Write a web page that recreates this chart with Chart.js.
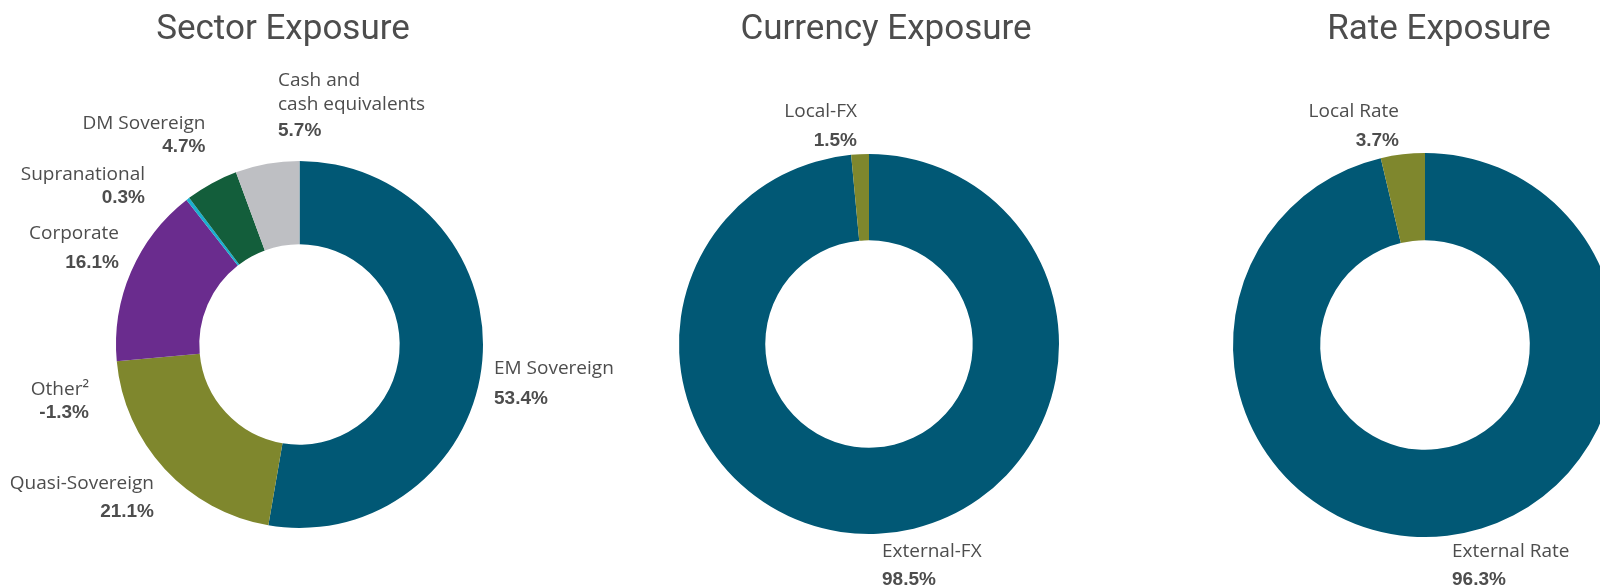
<!DOCTYPE html>
<html>
<head>
<meta charset="utf-8">
<title>Sector, Currency and Rate Exposure</title>
<script src="https://cdn.jsdelivr.net/npm/chart.js@4.4.1/dist/chart.umd.min.js"></script>
<style>
  html, body { margin: 0; padding: 0; background: #fff; }
  body { position: relative; width: 1600px; height: 587px; overflow: hidden; }
  canvas { position: absolute; top: 0; }
</style>
</head>
<body>
<canvas id="sector" width="650" height="587" style="left:0"></canvas>
<canvas id="currency" width="540" height="587" style="left:600px"></canvas>
<canvas id="rate" width="520" height="587" style="left:1140px"></canvas>
<script>
// data (clockwise from 12 o'clock)
const sectorLabels = ['EM Sovereign', 'Quasi-Sovereign', 'Other\u00B2', 'Corporate', 'Supranational', 'DM Sovereign', ['Cash and', 'cash equivalents']];
const sectorValues = [53.4, 21.1, -1.3, 16.1, 0.3, 4.7, 5.7];

const currencyLabels = ['External-FX', 'Local-FX'];
const currencyValues = [98.5, 1.5];

const rateLabels = ['External Rate', 'Local Rate'];
const rateValues = [96.3, 3.7];

const TEAL = '#015875';
const OLIVE = '#7f872d';
const sectorColors = [TEAL, OLIVE, '#9a9a9a', '#6a2c8e', '#1aafcf', '#135e3b', '#bebfc3'];

// label placement: offset from the doughnut centre, text alignment, gap to the value line
const sectorLayout = [
  { dx: 194.5, dy: 29.5, align: 'left', gap: 30 },
  { dx: -145.5, dy: 144.5, align: 'right', gap: 28 },
  { dx: -210.5, dy: 50.5, align: 'right', gap: 23 },
  { dx: -180.5, dy: -105.5, align: 'right', gap: 29 },
  { dx: -154.5, dy: -164.5, align: 'right', gap: 23 },
  { dx: -94, dy: -215.5, align: 'right', gap: 23 },
  { dx: -21.5, dy: -258.5, align: 'left', gap: 26 }
];
const currencyLayout = [
  { dx: 13, dy: 213, align: 'left', gap: 28 },
  { dx: -12, dy: -227, align: 'right', gap: 29 }
];
const rateLayout = [
  { dx: 27, dy: 212, align: 'left', gap: 28 },
  { dx: -26, dy: -228, align: 'right', gap: 29 }
];

const TEXT = '#4d4d4d';

const sliceLabels = {
  id: 'sliceLabels',
  afterDatasetsDraw(chart, args, opts) {
    const ctx = chart.ctx;
    const arc = chart.getDatasetMeta(0).data[0];
    const cx = arc.x, cy = arc.y;
    ctx.save();
    ctx.fillStyle = TEXT;
    ctx.textBaseline = 'alphabetic';

    // title
    ctx.textAlign = 'center';
    ctx.font = '35px Roboto';
    ctx.fillText(opts.title, cx + opts.titleDx, 39);

    chart.data.labels.forEach((lab, i) => {
      const p = opts.layout[i];
      const lines = Array.isArray(lab) ? lab : [lab];
      const x = cx + p.dx;
      let y = cy + p.dy;
      ctx.textAlign = p.align;
      ctx.font = '19px "Open Sans"';
      lines.forEach((ln, j) => {
        ctx.fillText(ln, x, y);
        if (j < lines.length - 1) y += 24;
      });
      ctx.font = 'bold 19px "Liberation Sans", Arial';
      ctx.fillText(opts.values[i].toFixed(1) + '%', x, y + p.gap);
    });
    ctx.restore();
  }
};

function makeDoughnut(id, labels, values, colors, padding, labelOpts) {
  return new Chart(document.getElementById(id), {
    type: 'doughnut',
    data: {
      labels: labels,
      datasets: [{
        data: values.map(v => Math.max(v, 0)), // negative share has no slice
        backgroundColor: colors,
        borderWidth: 0
      }]
    },
    options: {
      responsive: false,
      animation: false,
      cutout: '54.6%',
      layout: { padding: padding },
      plugins: {
        legend: { display: false },
        tooltip: { enabled: false },
        sliceLabels: Object.assign({ values: values }, labelOpts)
      }
    },
    plugins: [sliceLabels]
  });
}

makeDoughnut('sector', sectorLabels, sectorValues, sectorColors,
  { left: 116, right: 167, top: 161, bottom: 59 },
  { title: 'Sector Exposure', titleDx: -16.5, layout: sectorLayout });

makeDoughnut('currency', currencyLabels, currencyValues, [TEAL, OLIVE],
  { left: 79, right: 81, top: 154, bottom: 53 },
  { title: 'Currency Exposure', titleDx: 17, layout: currencyLayout });

makeDoughnut('rate', rateLabels, rateValues, [TEAL, OLIVE],
  { left: 93, right: 43, top: 153, bottom: 50 },
  { title: 'Rate Exposure', titleDx: 14, layout: rateLayout });
</script>
</body>
</html>
